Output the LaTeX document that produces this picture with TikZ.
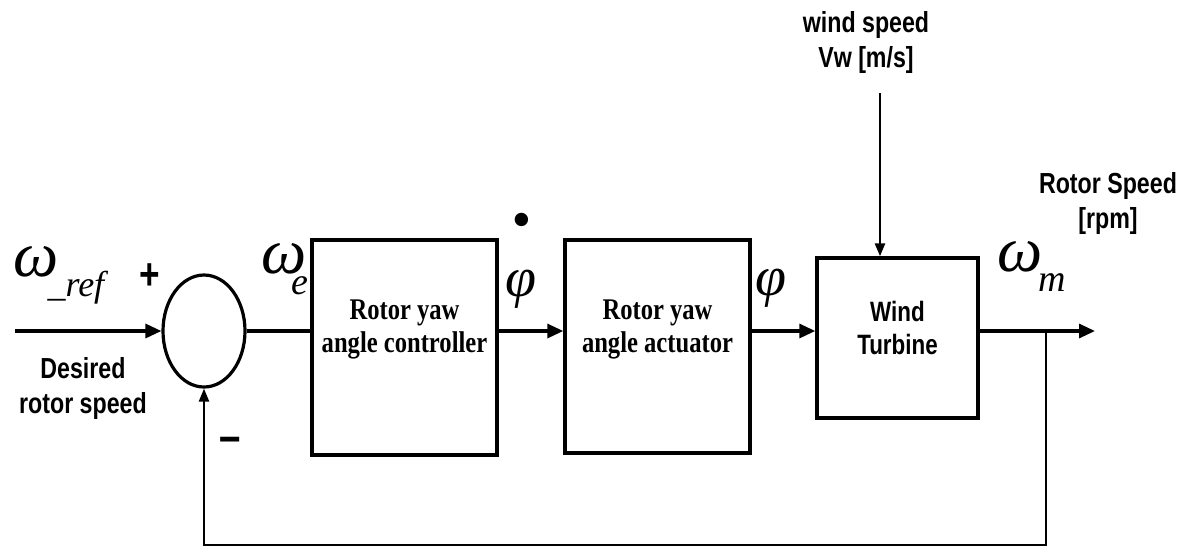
\documentclass[tikz,border=0pt]{standalone}
\usepackage{fontspec}
\setmainfont{Liberation Serif}
\newfontfamily\lblfont[FakeStretch=0.8]{Liberation Sans}
\newfontfamily\boxfont[FakeStretch=0.82]{Liberation Serif}
\usetikzlibrary{arrows.meta,positioning,calc,shapes.geometric}

\begin{document}
\begin{tikzpicture}[x=0.5pt, y=-0.5pt,
  blk/.style={draw, line width=1.7pt, inner sep=0pt},
  blktxt/.style={font=\boxfont\bfseries\fontsize{15}{16.5}\selectfont, align=center},
  sumnode/.style={ellipse, draw, line width=1.6pt, minimum width=41pt,
                  minimum height=56pt, inner sep=0pt},
  sig/.style={line width=1.6pt},
  arr/.style={sig, -{Triangle[length=8pt, width=7pt]}},
  thin/.style={line width=1.3pt, -{Triangle[length=6.5pt, width=5pt]}},
  lbl/.style={font=\lblfont\bfseries\fontsize{14.5}{17.5}\selectfont, align=center},
  greek/.style={font=\itshape\fontsize{32}{32}\selectfont, inner sep=0pt, anchor=base west},
]
\useasboundingbox (0,0) rectangle (1190,548);

%% ---- blocks ----
\node[sumnode] (sum) at (204,331) {};
\node[blk, minimum width=92.5pt, minimum height=107.5pt] (ctrl) at (404.5,347.5) {};
\node[blk, minimum width=92.5pt, minimum height=106.5pt] (act) at (657.5,346.5) {};
\node[blk, minimum width=80.5pt, minimum height=80pt] (wt) at (897.5,338) {};

\node[blktxt] (ctrltxt) at (ctrl |- 0,329) {Rotor yaw\\angle controller};
\node[blktxt] (acttxt) at (act |- 0,329) {Rotor yaw\\angle actuator};
\node[lbl, font=\lblfont\bfseries\fontsize{14}{16.5}\selectfont] (wttxt) at (wt |- 0,328) {Wind\\Turbine};

%% ---- free ends ----
\coordinate (in) at (15,331);
\coordinate (out) at (1095,331);
\coordinate (tap) at (1046,331);
\coordinate (bot) at (1046,545);
\coordinate (vw) at (880,93);

%% ---- signal path ----
\draw[arr] (in) -- (sum.west);
\draw[sig] (sum.east) -- (sum.east -| ctrl.west);
\draw[arr] (sum -| ctrl.east) -- (sum -| act.west);
\draw[arr] (sum -| act.east) -- (sum -| wt.west);
\draw[arr] (sum -| wt.east) -- (out);
\draw[thin] (vw) -- (vw |- wt.north);

% feedback loop
\draw[thin, line width=1.2pt] (tap) -- (bot) -| (sum.south);

%% ---- labels ----
\node[greek] (wref) at (13,276) {ω\kern-5.5pt\raisebox{-10pt}{\fontsize{18}{18}\selectfont\_ref}};
\node[lbl, font=\lblfont\bfseries\fontsize{22}{22}\selectfont] (plus) at (150,277) {+};
\node[lbl, font=\lblfont\bfseries\fontsize{24}{24}\selectfont] (minus) at (230,445) {–};
\node[lbl] (desired) at (83,388) {Desired\\rotor speed};

\node[greek] (we) at (261,273) {ω\kern-7.5pt\raisebox{-10.5pt}{\fontsize{19}{19}\selectfont e}};
\node[greek, anchor=center, align=center, font=\itshape\fontsize{28}{29}\selectfont] (phidot) at (521,261) {\textbullet\\φ};
\node[greek, anchor=center, font=\itshape\fontsize{28}{28}\selectfont] (phi) at (771,288) {φ};
\node[greek] (wm) at (997,271) {ω\kern-2pt\raisebox{-10pt}{\fontsize{19}{19}\selectfont m}};

\node[lbl] (wind) at (866,42) {wind speed\\Vw [m/s]};
\node[lbl] (rspeed) at (1108,203) {Rotor Speed\\{}[rpm]};

\end{tikzpicture}
\end{document}
